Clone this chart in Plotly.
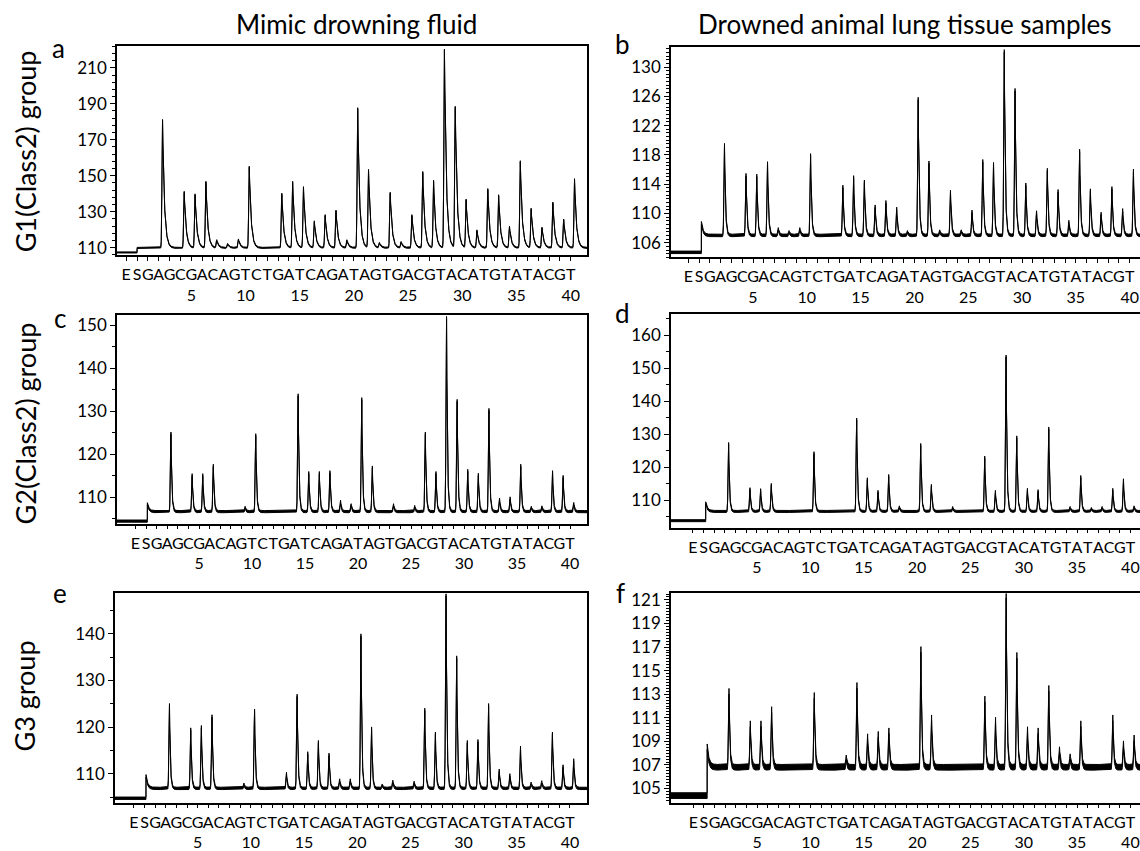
import numpy as np
import plotly.graph_objects as go

# ---------------- data ----------------
DISP_LETTERS = ["E", "S"] + list("GAGCGACAGTCTGATCAGATAGTGACGTACATGTATACGT")
DISP_POS = list(range(-1, 41))
NUMBER_TICKS = [5, 10, 15, 20, 25, 30, 35, 40]

COL_TITLES = ["Mimic drowning fluid", "Drowned animal lung tissue samples"]
ROW_TITLES = ["G1(Class2) group", "G2(Class2) group", "G3 group"]
PANEL_LETTERS = ["a", "b", "c", "d", "e", "f"]

# peak dispensation number -> apex signal value
a_pos = [2, 4, 5, 6, 7, 8, 9, 10, 13, 14, 15, 16, 17, 18, 19, 20, 21, 22, 23, 24, 25, 26, 27, 28, 29, 30,
         31, 32, 33, 34, 35, 36, 37, 38, 39, 40]
a_val = [181, 141, 139.5, 146.5, 114, 112, 114.5, 155, 140, 146.5, 143.5, 124.5, 128, 130.5, 114, 187.5,
         153, 112.5, 140.5, 113, 128, 152, 147, 220, 188, 136.5, 119.5, 142.5, 139, 121.5, 158, 131.5,
         121, 135, 125.5, 148]

b_pos = [2, 4, 5, 6, 7, 8, 9, 10, 13, 14, 15, 16, 17, 18, 19, 20, 21, 22, 23, 24, 25, 26, 27, 28, 29, 30,
         31, 32, 33, 34, 35, 36, 37, 38, 39, 40]
b_val = [119.4, 115.3, 115.2, 116.9, 107.9, 107.5, 107.9, 118, 113.7, 115, 114.4, 111, 111.6, 110.7, 107.5,
         125.7, 117, 107.6, 113, 107.6, 110.3, 117.2, 116.8, 132.2, 126.9, 114, 110.2, 116, 113.1, 108.9,
         118.6, 113.2, 110, 113.5, 110.5, 115.9]

c_pos = [2, 4, 5, 6, 9, 10, 14, 15, 16, 17, 18, 19, 20, 21, 23, 25, 26, 27, 28, 29, 30, 31, 32, 33, 34, 35,
         36, 37, 38, 39, 40]
c_val = [124.9, 115.2, 115.2, 117.4, 107.6, 124.5, 133.8, 115.7, 115.7, 115.9, 109, 108.2, 132.9, 117,
         108.2, 107.8, 124.9, 115.7, 151.8, 132.5, 116.2, 115.3, 130.4, 109.5, 109.8, 117.4, 107.6, 107.7,
         115.9, 114.8, 108.5]

d_pos = [2, 4, 5, 6, 10, 14, 15, 16, 17, 18, 20, 21, 23, 26, 27, 28, 29, 30, 31, 32, 34, 35, 36, 37, 38,
         39, 40]
d_val = [127.2, 113.5, 113.2, 114.8, 124.4, 134.6, 116.5, 112.7, 117.5, 108, 126.9, 114.5, 107.8, 123.1,
         112.7, 153.7, 129.2, 113.3, 112.9, 131.9, 107.8, 117.2, 107.5, 107.8, 113.3, 116.2, 108]

e_pos = [2, 4, 5, 6, 9, 10, 13, 14, 15, 16, 17, 18, 19, 20, 21, 22, 23, 25, 26, 27, 28, 29, 30, 31, 32,
         33, 34, 35, 36, 37, 38, 39, 40]
e_val = [124.8, 119.6, 120.1, 122.4, 107.8, 123.6, 110.1, 126.8, 114.5, 116.9, 114.2, 108.7, 108.7, 139.7,
         119.8, 107.6, 108.4, 108.2, 123.8, 118.7, 148.3, 135, 116.9, 117.1, 124.8, 110.8, 109.8, 115.7,
         108, 108.3, 118.7, 111.7, 113]

f_pos = [2, 4, 5, 6, 10, 13, 14, 15, 16, 17, 20, 21, 26, 27, 28, 29, 30, 31, 32, 33, 34, 35, 38, 39, 40]
f_val = [113.25, 110.5, 110.5, 111.7, 112.9, 107.6, 113.75, 109.4, 109.6, 109.9, 116.8, 111, 112.6, 110.8,
         121.4, 116.3, 110, 109.9, 113.5, 108.3, 107.7, 110.5, 111, 108.8, 109.3]

# baseline before / after substrate step, step spike value, noise half-amplitude
a_base = [107.3, 109.8]; a_spike = 109.8; a_noise = 0.3
b_base = [104.7, 107.0]; b_spike = 108.8; b_noise = 0.17
c_base = [104.4, 106.6]; c_spike = 108.5; c_noise = 0.25
d_base = [103.8, 106.6]; d_spike = 109.3; d_noise = 0.3
e_base = [104.8, 106.9]; e_spike = 109.7; e_noise = 0.25
f_base = [104.4, 106.8]; f_spike = 108.6; f_noise = 0.24

# y tick values
a_yticks = [110, 130, 150, 170, 190, 210]
b_yticks = [106, 110, 114, 118, 122, 126, 130]
c_yticks = [110, 120, 130, 140, 150]
d_yticks = [110, 120, 130, 140, 150, 160]
e_yticks = [110, 120, 130, 140]
f_yticks = [105, 107, 109, 111, 113, 115, 117, 119, 121]

# ---------------- layout / style ----------------
FONT = "Lato"
W, H = 1140, 851
panels = [
    dict(pos=a_pos, val=a_val, base=a_base, spike=a_spike, noise=a_noise, yt=a_yticks, minor=4,
         px=(117, 587), py=(43, 256), xr=(-1.85, 41.5), yr=(105.6, 222.0), step=0.0, tau=0.17, box=True),
    dict(pos=b_pos, val=b_val, base=b_base, spike=b_spike, noise=b_noise, yt=b_yticks, minor=0.5,
         px=(671, 1140), py=(44, 258), xr=(-2.62, 40.96), yr=(104.0, 132.7), step=0.2, tau=0.09, box=False),
    dict(pos=c_pos, val=c_val, base=c_base, spike=c_spike, noise=c_noise, yt=c_yticks, minor=5,
         px=(117, 587), py=(317, 529), xr=(-2.74, 41.6), yr=(103.8, 152.3), step=0.12, tau=0.08, box=True),
    dict(pos=d_pos, val=d_val, base=d_base, spike=d_spike, noise=d_noise, yt=d_yticks, minor=5,
         px=(671, 1140), py=(316, 533), xr=(-3.05, 40.9), yr=(101.7, 166.3), step=0.2, tau=0.08, box=False),
    dict(pos=e_pos, val=e_val, base=e_base, spike=e_spike, noise=e_noise, yt=e_yticks, minor=5,
         px=(115, 587), py=(600, 813), xr=(-2.77, 41.6), yr=(103.85, 148.6), step=0.14, tau=0.08, box=True),
    dict(pos=f_pos, val=f_val, base=f_base, spike=f_spike, noise=f_noise, yt=f_yticks, minor=0.25,
         px=(671, 1140), py=(600, 813), xr=(-3.09, 40.9), yr=(103.8, 121.55), step=0.3, tau=0.08, box=False),
]

APEX_OFFSET = 0.35
RISE = 0.05


def pyrogram(p):
    x = np.arange(p["xr"][0], p["xr"][1] + 0.005, 0.005)
    b0, b1 = p["base"]
    y = np.where(x < p["step"], b0, b1).astype(float)
    t = x - p["step"]
    y = y + np.where(t >= 0, (p["spike"] - b1) * np.exp(-np.clip(t, 0, None) / 0.15), 0.0)
    for k, v in zip(p["pos"], p["val"]):
        t = x - (k + APEX_OFFSET)
        left = np.exp(-0.5 * (t / RISE) ** 2)
        right = np.exp(-np.clip(t, 0, None) / p["tau"])
        y = y + (v - b1) * np.where(t < 0, left, right)
    return x, y


def tick_text():
    out = []
    for pos, letter in zip(DISP_POS, DISP_LETTERS):
        out.append(f"{letter}<br>{pos}" if pos in NUMBER_TICKS else f"{letter}<br> ")
    return out


fig = go.Figure()
layout = dict(width=W, height=H, margin=dict(l=0, r=0, t=0, b=0), showlegend=False,
              plot_bgcolor="white", paper_bgcolor="white",
              font=dict(family=FONT, color="black"))

for i, p in enumerate(panels):
    n = "" if i == 0 else str(i + 1)
    xa, ya = "x" + n, "y" + n
    x, y = pyrogram(p)
    fig.add_trace(go.Scatter(x=x, y=y - p["noise"], mode="lines", xaxis=xa, yaxis=ya,
                             line=dict(color="black", width=1.0), hoverinfo="skip"))
    fig.add_trace(go.Scatter(x=x, y=y + p["noise"], mode="lines", xaxis=xa, yaxis=ya, fill="tonexty",
                             fillcolor="black", line=dict(color="black", width=1.0), hoverinfo="skip"))
    x0, x1 = p["px"]
    y0, y1 = p["py"]
    layout["xaxis" + n] = dict(
        domain=[x0 / W, x1 / W], range=list(p["xr"]), anchor=ya,
        showline=True, linecolor="black", linewidth=1.5, mirror=True,
        tickmode="array", tickvals=DISP_POS, ticktext=tick_text(), tickangle=0,
        ticks="outside", ticklen=4, tickwidth=1, tickcolor="black",
        tickfont=dict(family=FONT, size=16, color="black"),
        showgrid=False, zeroline=False, fixedrange=True)
    layout["yaxis" + n] = dict(
        domain=[1 - y1 / H, 1 - y0 / H], range=list(p["yr"]), anchor=xa,
        showline=True, linecolor="black", linewidth=1.5, mirror=p["box"],
        tickmode="array", tickvals=p["yt"], ticks="outside", ticklen=5, tickwidth=1.2,
        tickcolor="black", tickfont=dict(family=FONT, size=17, color="black"),
        minor=dict(dtick=p["minor"], tick0=p["yt"][0], ticks="outside", ticklen=3, tickcolor="black",
                   showgrid=False),
        showgrid=False, zeroline=False, fixedrange=True)

ann = []
for txt, cx in zip(COL_TITLES, [356, 905]):
    ann.append(dict(text=txt, x=cx / W, y=1 - 20 / H, xref="paper", yref="paper", showarrow=False,
                    xanchor="center", yanchor="middle", font=dict(family=FONT, size=26, color="black")))
for txt, cy in zip(ROW_TITLES, [150, 427, 705]):
    ann.append(dict(text=txt, x=25 / W, y=1 - cy / H, xref="paper", yref="paper", showarrow=False,
                    textangle=-90, xanchor="center", yanchor="middle",
                    font=dict(family=FONT, size=27, color="black")))
letter_xy = [(58, 45), (622, 41), (60, 320), (622, 315), (60, 600), (620, 600)]
for txt, (lx, ly) in zip(PANEL_LETTERS, letter_xy):
    ann.append(dict(text=txt, x=lx / W, y=1 - ly / H, xref="paper", yref="paper", showarrow=False,
                    xanchor="center", yanchor="middle", font=dict(family=FONT, size=26, color="black")))
layout["annotations"] = ann

fig.update_layout(**layout)
fig.write_html("out.html")
